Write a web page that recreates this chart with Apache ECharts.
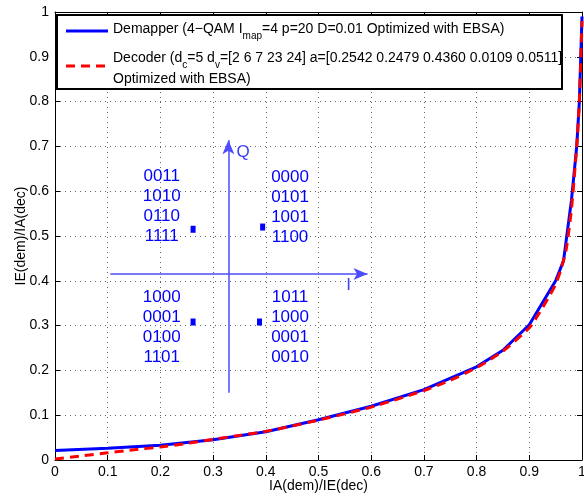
<!DOCTYPE html>
<html><head><meta charset="utf-8">
<script src="https://cdn.jsdelivr.net/npm/echarts@6/dist/echarts.min.js"></script>
<style>html,body{margin:0;padding:0;background:#fff}#c{width:584px;height:496px}</style>
</head><body><div id="c"></div>
<script>
// ---- data ----
const tickValues = [0, 0.1, 0.2, 0.3, 0.4, 0.5, 0.6, 0.7, 0.8, 0.9, 1];
const demapperX = [0, 0.1, 0.2, 0.3, 0.4, 0.5, 0.6, 0.7, 0.8, 0.85, 0.9, 0.95, 0.965, 0.98, 0.99, 0.995, 1.0];
const demapperY = [0.021, 0.026, 0.033, 0.045, 0.063, 0.09, 0.12, 0.157, 0.208, 0.245, 0.302, 0.4, 0.445, 0.58, 0.70, 0.80, 0.99];
const decoderX = [0, 0.05, 0.1, 0.15, 0.2, 0.25, 0.3, 0.35, 0.4, 0.45, 0.5, 0.55, 0.6, 0.65, 0.7, 0.75, 0.8, 0.85, 0.9, 0.92, 0.94, 0.95, 0.96, 0.97, 0.98, 0.99, 0.995, 1.0];
const decoderY = [0.002, 0.009, 0.016, 0.023, 0.029, 0.037, 0.046, 0.055, 0.064, 0.076, 0.089, 0.103, 0.118, 0.136, 0.155, 0.178, 0.206, 0.243, 0.295, 0.33, 0.37, 0.392, 0.425, 0.47, 0.56, 0.70, 0.80, 0.98];
const constellation = [[0.262, 0.515], [0.394, 0.52], [0.262, 0.308], [0.388, 0.308]];
const bitLabels = [['0011','1010','0110','1111'], ['0000','0101','1001','1100'], ['1000','0001','0100','1101'], ['1011','1000','0001','0010']];
const bitLabelPos = [[0.2025, 0.567], [0.446, 0.563], [0.2025, 0.297], [0.446, 0.297]];
const iAxis = [[0.105, 0.415], [0.593, 0.415]];
const qAxis = [[0.329, 0.15], [0.329, 0.714]];
const iqNames = [['I', 0.557, 0.39], ['Q', 0.357, 0.6875]];
const legend1 = 'Demapper (4\u2212QAM I{sub|map}=4 p=20 D=0.01 Optimized with EBSA)';
const legend2 = 'Decoder (d{sub|c}=5 d{sub|v}=[2 6 7 23 24] a=[0.2542 0.2479 0.4360 0.0109 0.0511]';
const legend3 = 'Optimized with EBSA)';
const xTitle = 'IA(dem)/IE(dec)';
const yTitle = 'IE(dem)/IA(dec)';

// ---- chart ----
const FONT = '"Liberation Sans", Arial, sans-serif';
const fmt = v => String(+v.toFixed(1));
const chart = echarts.init(document.getElementById('c'), null, {renderer: 'canvas'});
const grid = {left: 55, right: 2, top: 12, bottom: 36, containLabel: false, outerBoundsMode: 'none'};
const baseAxis = {
  type: 'value', min: 0, max: 1, interval: 0.1,
  axisLine: {show: true, onZero: false, lineStyle: {color: '#000', width: 1}},
  axisTick: {show: true, inside: true, length: 5, lineStyle: {color: '#000'}},
};
const split = {show: true, lineStyle: {color: '#666', width: 1, type: [1, 4]}};
const richSub = {sub: {fontSize: 10, lineHeight: 10, verticalAlign: 'bottom', fontFamily: FONT, fill: '#000'}};

const option = {
  animation: false,
  backgroundColor: '#fff',
  grid,
  xAxis: [
    Object.assign({}, baseAxis, {position: 'bottom', splitLine: split,
      axisLabel: {color: '#000', fontSize: 14, fontFamily: FONT, margin: 5, formatter: fmt, showMaxLabel: true, showMinLabel: true},
      name: xTitle, nameLocation: 'middle', nameGap: 19, nameMoveOverlap: false, nameTextStyle: {color: '#000', fontSize: 14, fontFamily: FONT}}),
    Object.assign({}, baseAxis, {position: 'top', splitLine: {show: false}, axisLabel: {show: false}})
  ],
  yAxis: [
    Object.assign({}, baseAxis, {position: 'left', splitLine: split,
      axisLabel: {color: '#000', fontSize: 14, fontFamily: FONT, margin: 6, formatter: fmt, showMaxLabel: true, showMinLabel: true},
      name: yTitle, nameLocation: 'middle', nameGap: 27, nameMoveOverlap: false, nameTextStyle: {color: '#000', fontSize: 14, fontFamily: FONT}}),
    Object.assign({}, baseAxis, {position: 'right', splitLine: {show: false}, axisLabel: {show: false}})
  ],
  series: [
    {
      type: 'line', name: 'Demapper', data: demapperX.map((x, i) => [x, demapperY[i]]),
      symbol: 'none', lineStyle: {color: '#0000ff', width: 3}, z: 3
    },
    {
      type: 'line', name: 'Decoder', data: decoderX.map((x, i) => [x, decoderY[i]]),
      symbol: 'none', smooth: 0.2, lineStyle: {color: '#ff0000', width: 3, type: [9, 6]}, z: 4
    },
    {
      type: 'line', data: [], z: 2,
      markLine: {
        silent: true, animation: false, symbol: ['none', 'arrow'], symbolSize: [9, 14],
        label: {show: false},
        lineStyle: {color: '#4d4dff', width: 1.5, type: 'solid'},
        data: [
          [{coord: iAxis[0]}, {coord: iAxis[1]}],
          [{coord: qAxis[0]}, {coord: qAxis[1]}]
        ]
      }
    },
    {
      type: 'scatter', data: constellation, symbol: 'rect', symbolSize: [5, 7],
      itemStyle: {color: '#0000ff', opacity: 1}, z: 5
    },
    {
      type: 'scatter', symbolSize: 0, z: 5, itemStyle: {opacity: 1},
      data: bitLabelPos.map((p, i) => ({value: p, label: {formatter: bitLabels[i].join('\n')}})),
      label: {show: true, position: 'inside', color: '#0000ff', opacity: 1, fontSize: 17, lineHeight: 20, fontFamily: FONT, align: 'center', textBorderWidth: 0}
    },
    {
      type: 'scatter', symbolSize: 0, z: 5, itemStyle: {opacity: 1},
      data: iqNames.map(n => ({value: [n[1], n[2]], label: {formatter: n[0]}})),
      label: {show: true, position: 'inside', color: '#3c3cff', opacity: 1, fontSize: 17, fontFamily: FONT, textBorderWidth: 0}
    }
  ],
  graphic: [
    {type: 'rect', z: 100, shape: {x: 57, y: 15, width: 505, height: 74},
      style: {fill: '#fff', stroke: '#000', lineWidth: 2}},
    {type: 'line', z: 101, shape: {x1: 66, y1: 31, x2: 108, y2: 31}, style: {stroke: '#0000ff', lineWidth: 3}},
    {type: 'line', z: 101, shape: {x1: 66, y1: 66, x2: 110, y2: 66}, style: {stroke: '#ff0000', lineWidth: 3, lineDash: [9, 6]}},
    {type: 'text', z: 101, x: 113, y: 29, style: {text: legend1, rich: richSub, fontSize: 14, lineHeight: 24, fontFamily: FONT, fill: '#000', verticalAlign: 'middle'}},
    {type: 'text', z: 101, x: 113, y: 58, style: {text: legend2, rich: richSub, fontSize: 14, lineHeight: 24, fontFamily: FONT, fill: '#000', verticalAlign: 'middle'}},
    {type: 'text', z: 101, x: 113, y: 79, style: {text: legend3, fontSize: 14, fontFamily: FONT, fill: '#000', verticalAlign: 'middle'}}
  ]
};
chart.setOption(option);
</script></body></html>
